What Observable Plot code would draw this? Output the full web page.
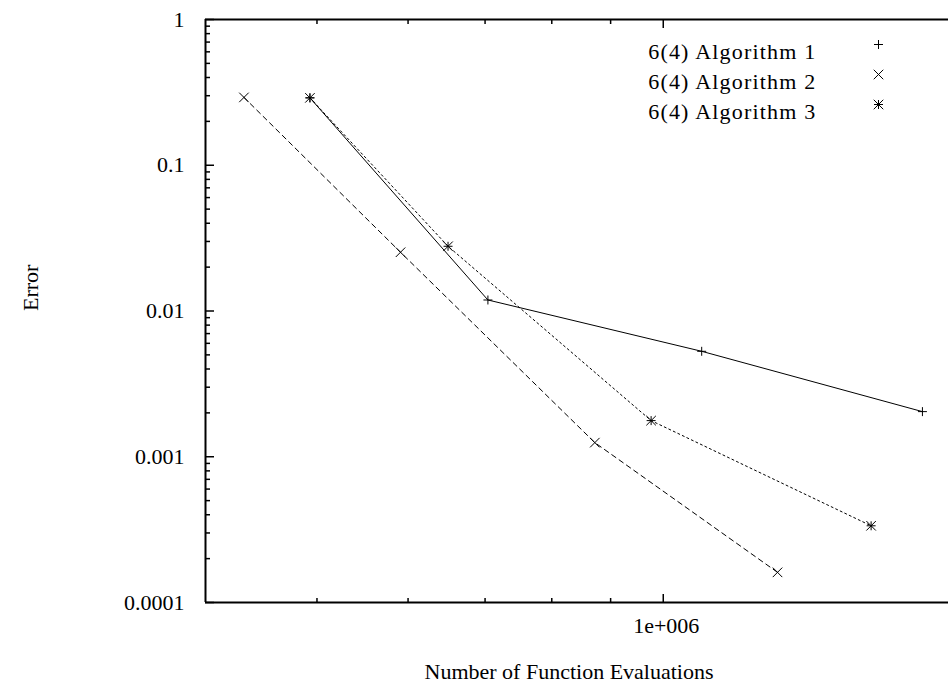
<!DOCTYPE html>
<html><head><meta charset="utf-8">
<script src="https://cdn.jsdelivr.net/npm/d3@7"></script>
<script src="https://cdn.jsdelivr.net/npm/@observablehq/plot@0.6"></script>
<style>body{margin:0;background:#fff}</style>
</head><body><div id="chart"></div>
<script>
const seriesNames = ["6(4) Algorithm 1", "6(4) Algorithm 2", "6(4) Algorithm 3"];
const evals1 = [4.93e5, 7.04e5, 1.08e6, 1.68e6];
const err1   = [0.29, 0.0119, 0.00529, 0.00204];
const evals2 = [4.32e5, 5.91e5, 8.72e5, 1.257e6];
const err2   = [0.292, 0.0253, 0.00125, 0.000161];
const evals3 = [4.93e5, 6.50e5, 9.76e5, 1.516e6];
const err3   = [0.29, 0.0278, 0.00177, 0.000336];

const xMajorTicks = [1e6];
const xMajorLabels = ["1e+006"];
const xMinorTicks = [5e5, 6e5, 7e5, 8e5, 9e5];
const yMajorTicks = [1e-4, 1e-3, 1e-2, 1e-1, 1];
const yMajorLabels = ["0.0001", "0.001", "0.01", "0.1", "1"];
const yMinorTicks = [1e-4, 1e-3, 1e-2, 1e-1].flatMap(d => [2,3,4,5,6,7,8,9].map(k => k * d));

const xDomain = [4e5, 1.77e6];
const yDomain = [1e-4, 1];

const mk = (xs, ys, name) => xs.map((x, i) => ({x, y: ys[i], name}));
const d1 = mk(evals1, err1, seriesNames[0]);
const d2 = mk(evals2, err2, seriesNames[1]);
const d3s = mk(evals3, err3, seriesNames[2]);

const plusR = 3.0, timesR = 4.4;
const font = "'Liberation Serif', 'DejaVu Serif', serif";

const legendMarks = [];
const legendSyms = [["plus"], ["times"], ["plus", "times"]];
seriesNames.forEach((name, i) => {
  legendMarks.push(Plot.text([name], {frameAnchor: "top-right", dx: -132, dy: 24 + i * 30, textAnchor: "end", fill: "#000"}));
  legendSyms[i].forEach(s => {
    legendMarks.push(Plot.dot([name], {frameAnchor: "top-right", dx: -70, dy: 25 + i * 30, symbol: () => s, r: s === "plus" ? plusR : timesR, stroke: "#000", strokeWidth: 1}));
  });
});

const chart = Plot.plot({
  width: 948,
  height: 688,
  marginLeft: 205,
  marginRight: 0,
  marginTop: 19,
  marginBottom: 86,
  style: {fontFamily: font, fontSize: "22px", background: "#fff", color: "#000", overflow: "visible"},
  x: {type: "log", domain: xDomain},
  y: {type: "log", domain: yDomain},
  symbol: {type: "identity"},
  marks: [
    Plot.ruleX([xDomain[0]], {stroke: "#000", strokeWidth: 2}),
    Plot.ruleY(yDomain, {stroke: "#000", strokeWidth: 2}),
    Plot.axisX({ticks: xMajorTicks, anchor: "bottom", tickSize: 8, dy: -8, tickFormat: () => "", label: null, strokeWidth: 1.5}),
    Plot.axisX({ticks: xMinorTicks, anchor: "bottom", tickSize: 4, dy: -4, tickFormat: () => "", label: null, strokeWidth: 1.5}),
    Plot.axisX({ticks: xMajorTicks, anchor: "top", tickSize: 8, dy: 8, tickFormat: () => "", label: null, strokeWidth: 1.5}),
    Plot.axisX({ticks: xMinorTicks, anchor: "top", tickSize: 4, dy: 4, tickFormat: () => "", label: null, strokeWidth: 1.5}),
    Plot.axisY({ticks: yMajorTicks, anchor: "left", tickSize: 9, dx: 9, tickFormat: () => "", label: null, strokeWidth: 1.5}),
    Plot.axisY({ticks: yMinorTicks, anchor: "left", tickSize: 5, dx: 5, tickFormat: () => "", label: null, strokeWidth: 1.5}),
    Plot.text(xMajorTicks, {x: d => d, text: (d, i) => xMajorLabels[i], frameAnchor: "bottom", dy: 30, dx: 3, fill: "#000"}),
    Plot.text(yMajorTicks, {y: d => d, text: (d, i) => yMajorLabels[i], frameAnchor: "left", dx: -21, textAnchor: "end", fill: "#000"}),
    Plot.text(["Error"], {frameAnchor: "left", dx: -175, rotate: -90, fill: "#000"}),
    Plot.text(["Number of Function Evaluations"], {frameAnchor: "bottom", dx: -8, dy: 76, fill: "#000"}),
    Plot.line(d1, {x: "x", y: "y", stroke: "#000", strokeWidth: 1}),
    Plot.line(d2, {x: "x", y: "y", stroke: "#000", strokeWidth: 1, strokeDasharray: "5,4"}),
    Plot.line(d3s, {x: "x", y: "y", stroke: "#000", strokeWidth: 1, strokeDasharray: "2,3"}),
    Plot.dot(d1, {x: "x", y: "y", symbol: () => "plus", r: plusR, stroke: "#000", strokeWidth: 1}),
    Plot.dot(d2, {x: "x", y: "y", symbol: () => "times", r: timesR, stroke: "#000", strokeWidth: 1}),
    Plot.dot(d3s, {x: "x", y: "y", symbol: () => "plus", r: plusR, stroke: "#000", strokeWidth: 1}),
    Plot.dot(d3s, {x: "x", y: "y", symbol: () => "times", r: timesR, stroke: "#000", strokeWidth: 1}),
    ...legendMarks
  ]
});
d3.select(chart).selectAll("text")
  .filter(function() { return seriesNames.includes(this.textContent); })
  .style("letter-spacing", "1.2px");
document.getElementById("chart").appendChild(chart);
</script>
</body></html>
